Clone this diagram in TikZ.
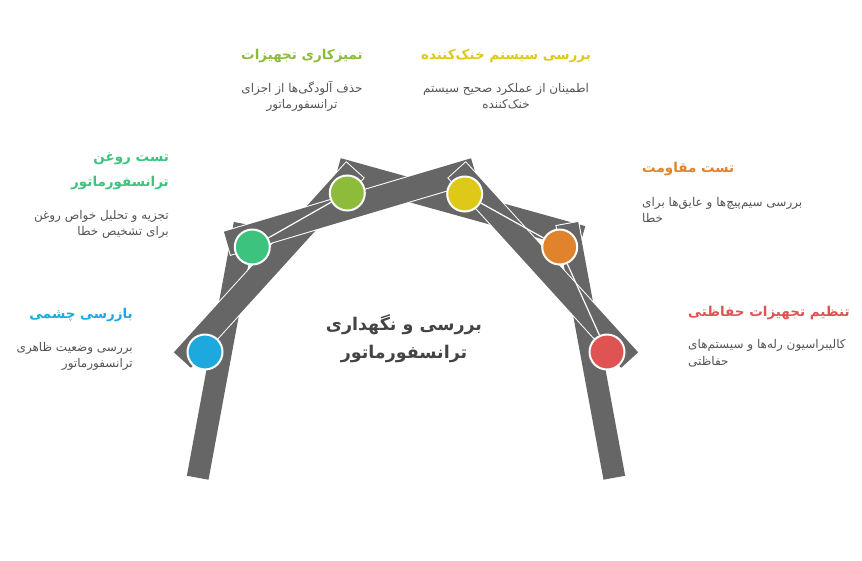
\documentclass[tikz,border=0pt]{standalone}
\usepackage{fontspec}
\newfontfamily\prsfont[Script=Arabic]{DejaVu Sans}
\TeXXeTstate=1
\newcommand\prs[1]{{\prsfont\beginR #1\endR}}
\definecolor{bargray}{HTML}{666666}
\definecolor{cblue}{HTML}{1EA9DE}
\definecolor{cgreen}{HTML}{3CC47E}
\definecolor{clime}{HTML}{8DBB3A}
\definecolor{cyellow}{HTML}{DFC918}
\definecolor{corange}{HTML}{E0832C}
\definecolor{cred}{HTML}{E05353}
\definecolor{descgray}{HTML}{555555}
\definecolor{titlegray}{HTML}{444444}
\tikzset{
  ttl/.style={font=\prsfont\bfseries\fontsize{13.5}{16}\selectfont, inner sep=0pt},
  dsc/.style={font=\prsfont\fontsize{12}{14}\selectfont, text=descgray, inner sep=0pt},
  ctr/.style={font=\prsfont\bfseries\fontsize{17.5}{21}\selectfont, text=titlegray, inner sep=0pt},
  dot/.style={circle, draw=white, line width=2pt, minimum size=35pt, inner sep=0pt},
  link/.style={draw=white, line width=1.2pt},
}
\newcommand\barpiece[3]{%
  \draw[white, line width=#3pt+2pt] (#1) -- (#2);
  \draw[bargray, line width=#3pt, shorten <=1pt, shorten >=1pt] (#1) -- (#2);}
\begin{document}
\begin{tikzpicture}[x=1pt,y=-1pt]
\useasboundingbox[fill=white] (0,0) rectangle (862,560);
% bar end points
\coordinate (l1a) at (197.5,478.7); \coordinate (l1b) at (244.8,223);
\coordinate (l6a) at (614.5,478.7); \coordinate (l6b) at (567.2,223);
\coordinate (l2a) at (181.7,360.8); \coordinate (l2b) at (355.5,169.5);
\coordinate (l4a) at (630.3,360.8); \coordinate (l4b) at (456.5,169.5);
\coordinate (l3a) at (226.4,243.5); \coordinate (l3b) at (475.4,169.5);
\coordinate (l5a) at (336.6,169.5); \coordinate (l5b) at (583,238);
\barpiece{l5a}{l5b}{24}
\barpiece{l1a}{l1b}{22}
\barpiece{l6a}{l6b}{22}
\barpiece{l2a}{l2b}{23}
\barpiece{l3a}{l3b}{24}
\barpiece{l4a}{l4b}{23}
% circles
\node[dot, fill=cblue]   (blue)   at (205,352) {};
\node[dot, fill=cgreen]  (green)  at (252.3,247) {};
\node[dot, fill=clime]   (lime)   at (347.3,193) {};
\node[dot, fill=cyellow] (yellow) at (464.7,194) {};
\node[dot, fill=corange] (orange) at (559.7,247) {};
\node[dot, fill=cred]    (red)    at (607,352) {};
\draw[link] (green) -- (lime);
\draw[link] (yellow) -- (orange);
\draw[link] (orange) -- (red);
% centre title
\node[ctr, anchor=base] (c1) at (404,330) {\prs{بررسی و نگهداری}};
\node[ctr, anchor=base] (c2) at (404,358) {\prs{ترانسفورماتور}};
% left top
\node[ttl, text=cgreen, anchor=base east] (t1a) at (169,161) {\prs{تست روغن}};
\node[ttl, text=cgreen, anchor=base east] (t1b) at (169,186) {\prs{ترانسفورماتور}};
\node[dsc, anchor=base east] (d1a) at (169,219) {\prs{تجزیه و تحلیل خواص روغن}};
\node[dsc, anchor=base east] (d1b) at (169,235) {\prs{برای تشخیص خطا}};
% left bottom
\node[ttl, text=cblue, anchor=base east] (t2a) at (133,318) {\prs{بازرسی چشمی}};
\node[dsc, anchor=base east] (d2a) at (133,351) {\prs{بررسی وضعیت ظاهری}};
\node[dsc, anchor=base east] (d2b) at (133,367) {\prs{ترانسفورماتور}};
% top left
\node[ttl, text=clime, anchor=base] (t3a) at (302,59) {\prs{تمیزکاری تجهیزات}};
\node[dsc, anchor=base] (d3a) at (302,92) {\prs{حذف آلودگی‌ها از اجزای}};
\node[dsc, anchor=base] (d3b) at (302,108) {\prs{ترانسفورماتور}};
% top right
\node[ttl, text=cyellow, anchor=base] (t4a) at (506,59) {\prs{بررسی سیستم خنک‌کننده}};
\node[dsc, anchor=base] (d4a) at (506,92) {\prs{اطمینان از عملکرد صحیح سیستم}};
\node[dsc, anchor=base] (d4b) at (506,108) {\prs{خنک‌کننده}};
% right top
\node[ttl, text=corange, anchor=base west] (t5a) at (642,172) {\prs{تست مقاومت}};
\node[dsc, anchor=base west] (d5a) at (642,206) {\prs{بررسی سیم‌پیچ‌ها و عایق‌ها برای}};
\node[dsc, anchor=base west] (d5b) at (642,222) {\prs{خطا}};
% right bottom
\node[ttl, text=cred, anchor=base west] (t6a) at (688,316) {\prs{تنظیم تجهیزات حفاظتی}};
\node[dsc, anchor=base west] (d6a) at (688,348) {\prs{کالیبراسیون رله‌ها و سیستم‌های}};
\node[dsc, anchor=base west] (d6b) at (688,365) {\prs{حفاظتی}};
\end{tikzpicture}
\end{document}
